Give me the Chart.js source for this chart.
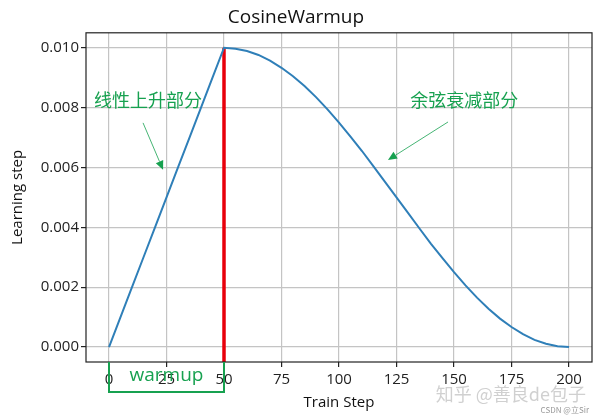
<!DOCTYPE html>
<html>
<head>
<meta charset="utf-8">
<script src="https://cdn.jsdelivr.net/npm/chart.js@4.4.1/dist/chart.umd.min.js"></script>
<style>
  html, body { margin: 0; padding: 0; background: #fff; }
</style>
</head>
<body>
<canvas id="lrChart" width="600" height="419"></canvas>
<script>
  // data

const steps = [0, 5, 10, 15, 20, 25, 30, 35, 40, 45, 50, 55, 60, 65, 70, 75, 80, 85, 90, 95,
  100, 105, 110, 115, 120, 125, 130, 135, 140, 145, 150, 155, 160, 165, 170, 175, 180, 185, 190, 195, 200];
const lrValues = [0, 0.001, 0.002, 0.003, 0.004, 0.005, 0.006, 0.007, 0.008, 0.009, 0.0100,
  0.00997, 0.00989, 0.00976, 0.00957, 0.00933, 0.00905, 0.00872, 0.00835, 0.00794,
  0.00750, 0.00703, 0.00655, 0.00604, 0.00552, 0.00500, 0.00448, 0.00396, 0.00345, 0.00297,
  0.00250, 0.00206, 0.00165, 0.00128, 0.00095, 0.00067, 0.00043, 0.00024, 0.00011, 0.00003, 0];
const warmupX = [50, 50];
const warmupY = [-0.0005, 0.0100];
const xTicks = [0, 25, 50, 75, 100, 125, 150, 175, 200];
const yTicks = [0.000, 0.002, 0.004, 0.006, 0.008, 0.010];

  // annotations (in data units)
const green = '#17a150';
const notes = [
  { text: '线性上升部分', x: -6.5, y: 0.0082, from: [14.8, 0.00749], to: [23.5, 0.00592] },
  { text: '余弦衰减部分', x: 131, y: 0.0082, from: [147.4, 0.00752], to: [121.3, 0.00625] }
];

const extras = {
  id: 'extras',
  afterDatasetsDraw(chart) {
    const { ctx, chartArea: a, scales: { x, y } } = chart;
    ctx.save();
    // frame
    ctx.strokeStyle = '#222';
    ctx.lineWidth = 1.2;
    ctx.strokeRect(a.left, a.top, a.right - a.left, a.bottom - a.top);

    // notes + arrows
    ctx.font = '18px "Noto Sans CJK SC"';
    ctx.textBaseline = 'middle';
    ctx.textAlign = 'left';
    notes.forEach(n => {
      ctx.fillStyle = green;
      ctx.fillText(n.text, x.getPixelForValue(n.x), y.getPixelForValue(n.y) - 1);
      const x0 = x.getPixelForValue(n.from[0]), y0 = y.getPixelForValue(n.from[1]);
      const x1 = x.getPixelForValue(n.to[0]), y1 = y.getPixelForValue(n.to[1]);
      const ang = Math.atan2(y1 - y0, x1 - x0);
      const len = 9, wid = 4;
      const bx = x1 - len * Math.cos(ang), by = y1 - len * Math.sin(ang);
      ctx.strokeStyle = green;
      ctx.lineWidth = 0.8;
      ctx.beginPath();
      ctx.moveTo(x0, y0);
      ctx.lineTo(bx, by);
      ctx.stroke();
      ctx.beginPath();
      ctx.moveTo(x1, y1);
      ctx.lineTo(bx + wid * Math.sin(ang), by - wid * Math.cos(ang));
      ctx.lineTo(bx - wid * Math.sin(ang), by + wid * Math.cos(ang));
      ctx.closePath();
      ctx.fill();
    });

    // warmup bracket under the axis
    const bl = x.getPixelForValue(0), br = x.getPixelForValue(50);
    ctx.strokeStyle = green;
    ctx.lineWidth = 2;
    ctx.beginPath();
    ctx.moveTo(bl, a.bottom);
    ctx.lineTo(bl, a.bottom + 30);
    ctx.lineTo(br, a.bottom + 30);
    ctx.lineTo(br, a.bottom);
    ctx.stroke();
    ctx.restore();
  },
  afterDraw(chart) {
    const { ctx, chartArea: a, scales: { x } } = chart;
    ctx.save();
    ctx.fillStyle = green;
    ctx.font = '19px "Open Sans"';
    ctx.textAlign = 'center';
    ctx.textBaseline = 'middle';
    ctx.fillText('warmup', x.getPixelForValue(25), a.bottom + 14);
    // watermark
    ctx.fillStyle = 'rgba(170,170,170,0.55)';
    ctx.font = '18px "Noto Sans CJK SC"';
    ctx.textAlign = 'right';
    ctx.fillText('知乎 @善良de包子', 586, 394);
    ctx.fillStyle = '#999';
    ctx.font = '8px "Noto Sans CJK SC"';
    ctx.fillText('CSDN @立Sir', 589, 410);
    ctx.restore();
  }
};

const lrChart = new Chart(document.getElementById('lrChart'), {
  type: 'scatter',
  data: {
    datasets: [{
      label: 'lr',
      data: steps.map((s, i) => ({ x: s, y: lrValues[i] })),
      showLine: true,
      borderColor: '#2f7fb8',
      borderWidth: 2,
      pointRadius: 0,
      tension: 0
    }, {
      label: 'warmup end',
      data: warmupX.map((s, i) => ({ x: s, y: warmupY[i] })),
      showLine: true,
      borderColor: '#e8000b',
      borderWidth: 3.5,
      pointRadius: 0
    }]
  },
  options: {
    responsive: false,
    animation: false,
    layout: { padding: { left: 0, right: 8, top: 0, bottom: 0 } },
    plugins: {
      legend: { display: false },
      tooltip: { enabled: false },
      title: {
        display: true,
        text: 'CosineWarmup',
        color: '#111',
        font: { family: 'Open Sans', size: 19, weight: 'normal' },
        padding: { top: 6, bottom: 4 }
      }
    },
    scales: {
      x: {
        type: 'linear',
        min: -10,
        max: 210,
        afterBuildTicks: s => { s.ticks = xTicks.map(v => ({ value: v })); },
        afterFit: s => { s.height = 57; },
        grid: { color: '#c4c4c4', lineWidth: 1.2, tickColor: '#222', tickLength: 5 },
        border: { display: false },
        ticks: { color: '#222', padding: 4, font: { family: 'Open Sans', size: 15 } },
        title: { display: true, text: 'Train Step', color: '#111', padding: { top: 0, bottom: 7 },
          font: { family: 'Open Sans', size: 15 } }
      },
      y: {
        min: -0.0005,
        max: 0.0105,
        afterBuildTicks: s => { s.ticks = yTicks.map(v => ({ value: v })); },
        afterFit: s => { s.width = 86; },
        grid: { color: '#c4c4c4', lineWidth: 1.2, tickColor: '#222', tickLength: 5 },
        border: { display: false },
        ticks: { color: '#222', padding: 2, font: { family: 'Open Sans', size: 15 },
          callback: v => v.toFixed(3) },
        title: { display: true, text: 'Learning step', color: '#111', padding: { top: 9, bottom: 0 },
          font: { family: 'Open Sans', size: 15 } }
      }
    }
  },
  plugins: [extras]
});
</script>
</body>
</html>
